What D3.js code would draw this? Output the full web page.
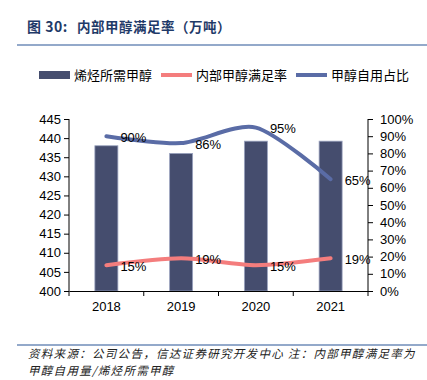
<!DOCTYPE html>
<html><head><meta charset="utf-8">
<script src="https://cdn.jsdelivr.net/npm/d3@7/dist/d3.min.js"></script>
<style>body{margin:0;background:#fff}svg{display:block}</style>
</head><body>
<script>
const years = ["2018","2019","2020","2021"];
const demand = [438, 436, 439.2, 439.2];            // 烯烃所需甲醇（万吨）
const satisfy = [0.15, 0.19, 0.15, 0.19];           // 内部甲醇满足率
const selfUse = [0.90, 0.86, 0.95, 0.65];           // 甲醇自用占比
const leftTicks = [400,405,410,415,420,425,430,435,440,445];
const rightTicks = [0,0.1,0.2,0.3,0.4,0.5,0.6,0.7,0.8,0.9,1.0];
const seriesNames = ["烯烃所需甲醇","内部甲醇满足率","甲醇自用占比"];

const W=427,H=380;
const svg=d3.select("body").append("svg").attr("width",W).attr("height",H);
const font="Arial, 'Liberation Sans', 'Noto Sans CJK SC', sans-serif";
const cjk="'Noto Sans CJK SC', sans-serif";

// title
svg.append("text").attr("x",27).attr("y",32).attr("font-family",cjk).attr("font-weight","bold")
  .attr("font-size",14).attr("fill","#1f3a68").attr("letter-spacing",0.5).text("图 30:");
svg.append("text").attr("x",77).attr("y",32).attr("font-family",cjk).attr("font-weight","bold")
  .attr("font-size",13.5).attr("fill","#1f3a68").attr("letter-spacing",0.5).text("内部甲醇满足率（万吨）");
svg.append("line").attr("x1",17).attr("x2",427).attr("y1",45).attr("y2",45).attr("stroke","#6f8db8").attr("stroke-width",1.5);

const x=d3.scaleBand().domain(years).range([69,368]);
const yL=d3.scaleLinear().domain([400,445]).range([291,119]);
const yR=d3.scaleLinear().domain([0,1]).range([291,119]);

// bars
const bw=23;
svg.selectAll(".bar").data(years).enter().append("rect")
  .attr("x",d=>x(d)+x.bandwidth()/2-bw/2).attr("width",bw)
  .attr("y",(d,i)=>yL(demand[i])).attr("height",(d,i)=>yL(400)-yL(demand[i]))
  .attr("fill","#454d6e").attr("stroke","#9aa3bf").attr("stroke-width",0.8);

// axes
const gL=svg.append("g").attr("transform","translate(69,0)")
  .call(d3.axisLeft(yL).tickValues(leftTicks).tickSize(5).tickPadding(3).tickFormat(d3.format("d")));
const gR=svg.append("g").attr("transform","translate(368,0)")
  .call(d3.axisRight(yR).tickValues(rightTicks).tickSize(5).tickPadding(7).tickFormat(d3.format(".0%")));
const gB=svg.append("g").attr("transform","translate(0,291)")
  .call(d3.axisBottom(x).tickSize(0).tickPadding(11));
const bounds=years.map(d=>x(d)).concat([368]);
gB.selectAll(".bt").data(bounds).enter().append("line").attr("x1",d=>d).attr("x2",d=>d).attr("y1",0).attr("y2",5).attr("stroke","#000");
[gL,gR,gB].forEach(g=>{
  g.selectAll("path").attr("stroke","#000").attr("stroke-width",1);
  g.selectAll(".tick line").attr("stroke","#000");
  g.selectAll("text").attr("font-family",font).attr("font-size",13).attr("fill","#000");
});
gL.select(".domain").attr("d","M0,119V291");
gR.select(".domain").attr("d","M0,119V291");

// lines
const cx=d=>x(d)+x.bandwidth()/2;
const line=d3.line().curve(d3.curveCardinal.tension(0.2));
svg.append("path").attr("d",line(years.map((d,i)=>[cx(d),yR(selfUse[i])])))
  .attr("fill","none").attr("stroke","#5a6ca6").attr("stroke-width",4).attr("stroke-linecap","round");
svg.append("path").attr("d",line(years.map((d,i)=>[cx(d),yR(satisfy[i])])))
  .attr("fill","none").attr("stroke","#f47d7d").attr("stroke-width",4).attr("stroke-linecap","round");

// labels
const fmt=d3.format(".0%");
[selfUse,satisfy].forEach(s=>{
  svg.selectAll(null).data(years).enter().append("text")
    .attr("x",d=>cx(d)+14).attr("y",(d,i)=>yR(s[i])+1).attr("dy","0.35em")
    .attr("font-family",font).attr("font-size",13).attr("fill","#000")
    .text((d,i)=>fmt(s[i]));
});

// legend
const lg=svg.append("g").attr("font-family",cjk).attr("font-size",13);
const items=[{x:39,t:seriesNames[0],c:"#454d6e",w:8},{x:161,t:seriesNames[1],c:"#f47d7d",w:4},{x:296,t:seriesNames[2],c:"#5a6ca6",w:4}];
items.forEach(it=>{
  lg.append("line").attr("x1",it.x).attr("x2",it.x+31).attr("y1",75).attr("y2",75).attr("stroke",it.c).attr("stroke-width",it.w);
  lg.append("text").attr("x",it.x+35).attr("y",75).attr("dy","0.36em").attr("fill","#000").text(it.t);
});

// footer
svg.append("line").attr("x1",17).attr("x2",427).attr("y1",345).attr("y2",345).attr("stroke","#6f8db8").attr("stroke-width",1.5);
const ft=svg.append("g").attr("font-family",cjk).attr("font-size",11.5).attr("font-style","italic").attr("fill","#222").attr("letter-spacing",1.3);
ft.append("text").attr("x",28).attr("y",358).text("资料来源：公司公告，信达证券研究开发中心 注：内部甲醇满足率为");
ft.append("text").attr("x",28).attr("y",375).text("甲醇自用量/烯烃所需甲醇");
</script>
</body></html>
